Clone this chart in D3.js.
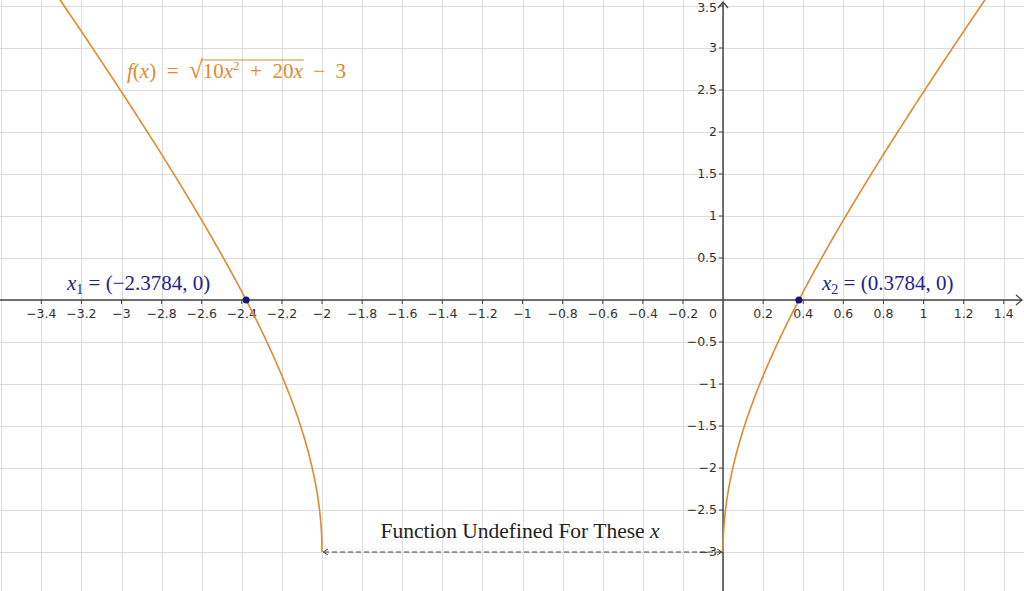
<!DOCTYPE html>
<html>
<head>
<meta charset="utf-8">
<script src="https://cdn.jsdelivr.net/npm/d3@7"></script>
<style>
body { margin: 0; background: #fff; }
svg text { font-family: "DejaVu Sans", sans-serif; }
.math { font-family: "Liberation Serif", "DejaVu Serif", serif; white-space: pre; }
</style>
</head>
<body>
<div id="chart"></div>
<script>
// tick values shown on the axes
var xTicks = [-3.4, -3.2, -3, -2.8, -2.6, -2.4, -2.2, -2, -1.8, -1.6, -1.4, -1.2, -1, -0.8, -0.6, -0.4, -0.2, 0.2, 0.4, 0.6, 0.8, 1, 1.2, 1.4];
var yTicks = [-3, -2.5, -2, -1.5, -1, -0.5, 0.5, 1, 1.5, 2, 2.5, 3, 3.5];
// roots marked on the graph
var rootX = [-2.3784, 0.3784];
var rootLabels = ["(−2.3784, 0)", "(0.3784, 0)"];
// the plotted function and its two branches
function f(x) { return Math.sqrt(10 * x * x + 20 * x) - 3; }
var leftBranch = [-3.7, -2];
var rightBranch = [0, 1.6];

document.addEventListener('DOMContentLoaded', function() {
    drawGraph()
}, false);

function drawGraph() {
    var width = 1024, height = 591;

    var x = d3.scaleLinear().domain([-3.606, 1.501]).range([0, width]);
    var y = d3.scaleLinear().domain([3.571, -3.464]).range([0, height]);

    var svg = d3.select("#chart").append("svg")
        .attr("width", width).attr("height", height);

    // grid
    var gx = d3.range(-18, 8).map(i => i * 0.2);
    var gy = d3.range(-7, 8).map(i => i * 0.5);
    svg.append("g").selectAll("line").data(gx).enter().append("line")
        .attr("x1", d => Math.round(x(d)) + 0.5).attr("x2", d => Math.round(x(d)) + 0.5)
        .attr("y1", 0).attr("y2", height)
        .attr("stroke", "#dcdcdc").attr("stroke-width", 1);
    svg.append("g").selectAll("line").data(gy).enter().append("line")
        .attr("y1", d => Math.round(y(d)) + 0.5).attr("y2", d => Math.round(y(d)) + 0.5)
        .attr("x1", 0).attr("x2", width)
        .attr("stroke", "#dcdcdc").attr("stroke-width", 1);

    // axes
    var axisColor = "#444";
    svg.append("line").attr("x1", 0).attr("x2", width - 2)
        .attr("y1", y(0)).attr("y2", y(0)).attr("stroke", axisColor).attr("stroke-width", 1.5);
    svg.append("line").attr("x1", x(0)).attr("x2", x(0))
        .attr("y1", 2).attr("y2", height).attr("stroke", axisColor).attr("stroke-width", 1.5);
    svg.append("path")
        .attr("d", `M${width - 8},${y(0) - 5} L${width - 2},${y(0)} L${width - 8},${y(0) + 5}`)
        .attr("fill", "none").attr("stroke", axisColor).attr("stroke-width", 1.3);
    svg.append("path")
        .attr("d", `M${x(0) - 5},8 L${x(0)},2 L${x(0) + 5},8`)
        .attr("fill", "none").attr("stroke", axisColor).attr("stroke-width", 1.3);

    // tick marks + labels
    svg.append("g").selectAll("line").data(xTicks).enter().append("line")
        .attr("x1", d => x(d)).attr("x2", d => x(d))
        .attr("y1", y(0)).attr("y2", y(0) + 4).attr("stroke", axisColor);
    svg.append("g").selectAll("line").data(yTicks).enter().append("line")
        .attr("y1", d => y(d)).attr("y2", d => y(d))
        .attr("x1", x(0) - 4).attr("x2", x(0)).attr("stroke", axisColor);

    var fmt = d => String(d).replace("-", "−");
    svg.append("g").selectAll("text").data(xTicks).enter().append("text")
        .attr("x", d => x(d)).attr("y", y(0) + 18)
        .attr("text-anchor", "middle").style("font-size", "12.5px").attr("fill", "#333")
        .text(fmt);
    svg.append("g").selectAll("text").data(yTicks).enter().append("text")
        .attr("x", x(0) - 6).attr("y", d => Math.max(y(d) + 4, 12))
        .attr("text-anchor", "end").style("font-size", "12.5px").attr("fill", "#333")
        .text(fmt);
    svg.append("text").attr("x", x(0) - 6).attr("y", y(0) + 18)
        .attr("text-anchor", "end").style("font-size", "12.5px").attr("fill", "#333").text("0");

    // function curve
    var line = d3.line().x(d => x(d[0])).y(d => y(d[1]));
    var orange = "#e0892e";
    [leftBranch, rightBranch].forEach(function(b) {
        var n = 600;
        var pts = d3.range(n + 1).map(function(i) {
            var t = i / n;
            // denser near the endpoint where the curve is vertical
            var xv = b === leftBranch ? b[1] - (b[1] - b[0]) * t * t : b[0] + (b[1] - b[0]) * t * t;
            return [xv, f(xv)];
        });
        svg.append("path").datum(pts).attr("d", line)
            .attr("fill", "none").attr("stroke", orange).attr("stroke-width", 1.6);
    });

    // dashed undefined-interval arrow
    var ay = y(-3);
    svg.append("line").attr("x1", x(-2) + 2).attr("x2", x(0) - 2)
        .attr("y1", ay).attr("y2", ay)
        .attr("stroke", "#444").attr("stroke-width", 1).attr("stroke-dasharray", "5,3");
    svg.append("path")
        .attr("d", `M${x(-2) + 6},${ay - 3} L${x(-2) + 1},${ay} L${x(-2) + 6},${ay + 3} M${x(0) - 6},${ay - 3} L${x(0) - 1},${ay} L${x(0) - 6},${ay + 3}`)
        .attr("fill", "none").attr("stroke", "#444").attr("stroke-width", 1);
    var tu = svg.append("text").attr("class", "math")
        .attr("x", 520).attr("y", 538)
        .attr("text-anchor", "middle").style("font-size", "21.5px").attr("fill", "#222");
    tu.append("tspan").text("Function Undefined For These ");
    tu.append("tspan").style("font-style", "italic").text("x");

    // root points and labels
    var blue = "#23238e";
    svg.append("g").selectAll("circle").data(rootX).enter().append("circle")
        .attr("cx", d => x(d)).attr("cy", y(0)).attr("r", 3.5).attr("fill", "#15157a");
    var labelPos = [[67, 290], [822, 290]];
    rootX.forEach(function(r, i) {
        var t = svg.append("text").attr("class", "math")
            .attr("x", labelPos[i][0]).attr("y", labelPos[i][1])
            .style("font-size", "21px").attr("fill", blue);
        t.append("tspan").style("font-style", "italic").text("x");
        t.append("tspan").attr("dy", 4).style("font-size", "14px").text(i + 1);
        t.append("tspan").attr("dy", -4).text(" = " + rootLabels[i]);
    });

    // function label
    var fl = svg.append("text").attr("class", "math")
        .attr("x", 127).attr("y", 78).style("font-size", "21px").attr("fill", orange);
    fl.append("tspan").style("font-style", "italic").text("f");
    fl.append("tspan").text("(");
    fl.append("tspan").style("font-style", "italic").text("x");
    fl.append("tspan").text(")  =  ");
    fl.append("tspan").style("font-size", "25px").text("√");
    fl.append("tspan").text("10");
    fl.append("tspan").style("font-style", "italic").text("x");
    fl.append("tspan").attr("dy", -8).style("font-size", "13px").text("2");
    fl.append("tspan").attr("dy", 8).text("  +  20");
    fl.append("tspan").style("font-style", "italic").text("x");
    fl.append("tspan").text("  −  3");
    // radical overbar over the radicand
    var node = fl.node();
    var txt = node.textContent;
    var i0 = txt.indexOf("10"), i1 = txt.indexOf("20") + 2;
    var e0 = node.getExtentOfChar(i0), e1 = node.getExtentOfChar(i1);
    var ev = node.getExtentOfChar(i0 - 1);
    svg.append("line").attr("x1", ev.x + ev.width - 1).attr("x2", e1.x + e1.width + 1)
        .attr("y1", e0.y + 1).attr("y2", e0.y + 1)
        .attr("stroke", orange).attr("stroke-width", 1.2);
}
</script>
</body>
</html>
